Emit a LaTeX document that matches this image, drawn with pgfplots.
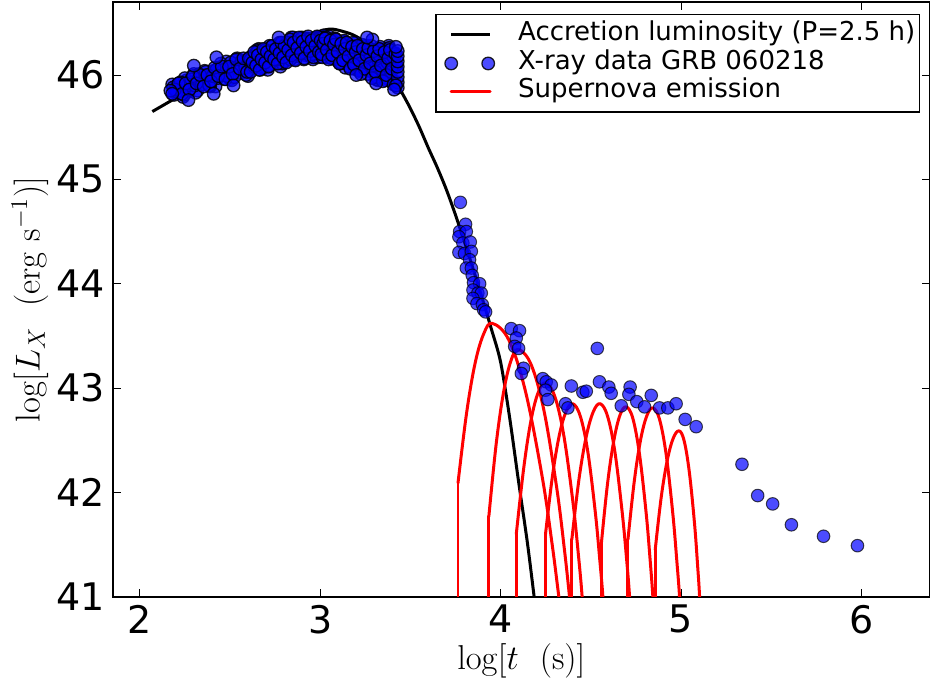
\documentclass[border=0pt]{standalone}
\usepackage{pgfplots}
\pgfplotsset{compat=1.18}
\usepackage[no-math]{fontspec}
\setmainfont{DejaVu Sans}
\definecolor{mblue}{rgb}{0,0,1}
\pgfplotsset{
  lineleg/.style={legend image code/.code={\path[draw=none] (-7.5pt,0pt) -- (31.5pt,0pt); \draw[##1] (0pt,0pt) -- (19.5pt,0pt);}},
  markleg/.style={legend image code/.code={\path[draw=none] (-7.5pt,0pt) -- (31.5pt,0pt); \draw[##1] plot coordinates {(0pt,0pt) (18.5pt,0pt)};}},
  sn/.style={color=red, line width=1.5pt, line cap=round, line join=round},
  snc/.style={sn, smooth, tension=0.6},
}
\begin{document}
\begin{tikzpicture}
\begin{axis}[
  name=ax,
  scale only axis,
  width=408.8pt, height=297.5pt,
  xmin=1.85, xmax=6.38, ymin=41, ymax=46.7,
  xtick={2,3,4,5,6}, ytick={41,42,43,44,45,46},
  tick align=inside,
  major tick length=4pt,
  every tick/.style={black, line width=0.5pt},
  axis line style={line width=0.9pt},
  /pgf/number format/assume math mode=true,
  ticklabel style={font=\fontsize{19}{19}\selectfont},
  xticklabel style={inner ysep=4pt},
  yticklabel style={inner xsep=3.85pt},
  xlabel={$\log[t\ \ (\mathrm{s})]$},
  ylabel={$\log[L_X\ \ (\mathrm{erg\ s^{-1}})]$},
  label style={font=\fontsize{16.5}{18}\selectfont},
  xlabel style={at={(axis description cs:0.5,-0.1076)}, anchor=center},
  ylabel style={at={(axis description cs:-0.1011,0.5)}, anchor=center},
  legend style={at={(0.9878,0.9798)}, anchor=north east, draw=black, line width=0.75pt,
    inner xsep=0pt, inner ysep=3pt, font=\fontsize{13}{15}\selectfont,
    nodes={inner sep=2pt, text height=8.05pt, text depth=2.2pt}},
  legend cell align=left,
]
% accretion luminosity
\addplot[color=black, line width=1.5pt, smooth, tension=0.5, lineleg]
  coordinates {
(2.07,45.65) (2.2,45.78) (2.3,45.88) (2.4,45.98) (2.5,46.07) (2.6,46.15) (2.7,46.23)
(2.8,46.30) (2.9,46.37) (3.0,46.42) (3.05,46.44) (3.1,46.43) (3.2,46.37) (3.3,46.22)
(3.35,46.11) (3.4,45.98) (3.45,45.84) (3.5,45.68) (3.55,45.50) (3.6,45.30) (3.65,45.11)
(3.7,44.90) (3.75,44.66) (3.8,44.40) (3.85,44.13) (3.9,43.85) (3.95,43.56) (4.0,43.25)
(4.05,42.72) (4.1,42.10) (4.15,41.50) (4.2,40.80)
};
\addlegendentry{Accretion luminosity (P=2.5 h)}
% X-ray data: dense early band
\addplot[only marks, mark=*, mark size=3.15pt,
  mark options={fill=mblue, draw=black, fill opacity=0.7, draw opacity=0.85, line width=0.65pt}, markleg]
  table {
x y
2.18 45.91
2.20 45.83
2.22 45.89
2.24 45.79
2.26 45.95
2.28 45.89
2.30 46.01
2.32 45.85
2.34 45.95
2.36 46.04
2.38 45.91
2.40 46.01
2.42 45.89
2.44 46.07
2.46 46.00
2.48 46.13
2.50 45.96
2.52 46.06
2.54 46.16
2.56 46.02
2.58 46.12
2.60 45.99
2.62 46.18
2.64 46.11
2.66 46.25
2.68 46.06
2.70 46.17
2.72 46.28
2.74 46.11
2.76 46.23
2.78 46.08
2.80 46.29
2.82 46.21
2.84 46.36
2.86 46.15
2.88 46.26
2.90 46.36
2.92 46.19
2.94 46.30
2.96 46.15
2.98 46.34
3.00 46.25
3.02 46.38
3.04 46.17
3.06 46.26
3.08 46.35
3.10 46.16
3.12 46.25
3.14 46.07
3.16 46.28
3.18 46.16
3.20 46.31
3.22 46.04
3.24 46.15
3.26 46.28
3.28 46.04
3.30 46.17
3.32 45.95
3.34 46.23
3.36 46.08
3.38 46.28
3.40 45.95
3.42 46.09
2.19 45.81
2.21 45.91
2.23 45.85
2.25 45.97
2.27 45.84
2.29 45.93
2.31 45.83
2.33 46.01
2.35 45.95
2.37 46.00
2.39 45.89
2.41 46.04
2.43 45.97
2.45 46.11
2.47 45.96
2.49 46.06
2.51 45.95
2.53 46.14
2.55 46.07
2.57 46.13
2.59 46.00
2.61 46.16
2.63 46.08
2.65 46.24
2.67 46.08
2.69 46.18
2.71 46.05
2.73 46.27
2.75 46.19
2.77 46.25
2.79 46.11
2.81 46.29
2.83 46.19
2.85 46.36
2.87 46.18
2.89 46.28
2.91 46.15
2.93 46.35
2.95 46.27
2.97 46.32
2.99 46.17
3.01 46.32
3.03 46.23
3.05 46.37
3.07 46.18
3.09 46.26
3.11 46.11
3.13 46.31
3.15 46.20
3.17 46.25
3.19 46.06
3.21 46.24
3.23 46.11
3.25 46.28
3.27 46.04
3.29 46.16
3.31 45.96
3.33 46.25
3.35 46.11
3.37 46.18
3.39 45.94
3.41 46.18
2.185 45.88
2.205 45.84
2.225 45.93
2.245 45.81
2.265 45.90
2.285 45.96
2.305 45.90
2.325 45.96
2.345 45.91
2.365 46.03
2.385 45.90
2.405 45.99
2.425 46.05
2.445 45.99
2.465 46.05
2.485 45.99
2.505 46.12
2.525 45.98
2.545 46.08
2.565 46.14
2.585 46.07
2.605 46.14
2.625 46.07
2.645 46.21
2.665 46.05
2.685 46.16
2.705 46.23
2.725 46.15
2.745 46.23
2.765 46.15
2.785 46.30
2.805 46.13
2.825 46.24
2.845 46.31
2.865 46.22
2.885 46.29
2.905 46.21
2.925 46.35
2.945 46.18
2.965 46.28
2.985 46.33
3.005 46.24
3.025 46.30
3.045 46.21
3.065 46.34
3.085 46.15
3.105 46.24
3.125 46.29
3.145 46.18
3.165 46.23
3.185 46.12
3.205 46.27
3.225 46.05
3.245 46.16
3.265 46.23
3.285 46.10
3.305 46.18
3.325 46.04
3.345 46.24
3.365 45.97
3.385 46.11
3.405 46.19
2.195 45.86
2.215 45.92
2.235 45.82
2.255 45.92
2.275 45.86
2.295 45.99
2.315 45.92
2.335 46.00
2.355 45.89
2.375 46.00
2.395 45.94
2.415 46.07
2.435 45.99
2.455 46.08
2.475 45.96
2.495 46.08
2.515 46.01
2.535 46.15
2.555 46.06
2.575 46.16
2.595 46.03
2.615 46.15
2.635 46.08
2.655 46.23
2.675 46.13
2.695 46.24
2.715 46.09
2.735 46.23
2.755 46.15
2.775 46.31
2.795 46.20
2.815 46.31
2.835 46.15
2.855 46.29
2.875 46.20
2.895 46.35
2.915 46.25
2.935 46.34
2.955 46.20
2.975 46.31
2.995 46.22
3.015 46.36
3.035 46.25
3.055 46.34
3.075 46.17
3.095 46.28
3.115 46.17
3.135 46.32
3.155 46.18
3.175 46.28
3.195 46.08
3.215 46.21
3.235 46.09
3.255 46.27
3.275 46.12
3.295 46.24
3.315 46.01
3.335 46.18
3.355 46.04
3.375 46.25
3.395 46.07
3.415 46.21
2.605 46.16
2.615 46.03
2.625 46.12
2.635 46.22
2.645 46.09
2.655 46.19
2.665 46.05
2.675 46.15
2.685 46.25
2.695 46.12
2.705 46.22
2.715 46.08
2.725 46.18
2.735 46.28
2.745 46.15
2.755 46.25
2.765 46.11
2.775 46.21
2.785 46.31
2.795 46.17
2.803 46.28
2.813 46.12
2.823 46.24
2.833 46.34
2.843 46.19
2.853 46.31
2.863 46.14
2.873 46.26
2.883 46.36
2.893 46.21
2.903 46.32
2.913 46.16
2.923 46.27
2.933 46.37
2.943 46.23
2.953 46.33
2.963 46.17
2.973 46.28
2.983 46.37
2.993 46.22
3.003 46.33
3.013 46.17
3.023 46.28
3.033 46.36
3.043 46.22
3.053 46.32
3.063 46.16
3.073 46.26
3.083 46.35
3.093 46.19
3.103 46.30
3.113 46.12
3.123 46.23
3.133 46.33
3.143 46.16
3.153 46.27
3.163 46.08
3.173 46.20
3.183 46.31
3.193 46.12
3.203 46.25
3.213 46.04
3.223 46.17
3.233 46.29
3.243 46.09
3.253 46.22
3.263 46.01
3.273 46.15
3.283 46.28
3.293 46.07
3.303 46.21
3.313 45.98
3.323 46.14
3.333 46.27
3.343 46.05
3.353 46.21
3.363 45.95
3.373 46.12
3.383 46.26
3.393 46.03
3.403 46.18
3.413 45.93
3.423 46.10
3.007 46.20
3.017 46.30
3.027 46.35
3.037 46.24
3.047 46.15
3.057 46.33
3.067 46.19
3.077 46.29
3.087 46.34
3.097 46.22
3.107 46.11
3.117 46.30
3.127 46.14
3.137 46.25
3.147 46.31
3.157 46.18
3.167 46.06
3.177 46.27
3.187 46.10
3.197 46.22
3.207 46.28
3.217 46.14
3.227 46.01
3.237 46.25
3.247 46.06
3.257 46.19
3.267 46.26
3.277 46.11
3.287 45.97
3.297 46.23
3.307 46.03
3.317 46.18
3.327 46.25
3.337 46.09
3.347 45.94
3.357 46.22
3.367 46.00
3.377 46.16
3.387 46.24
3.397 46.06
3.407 45.91
3.417 46.20
3.43 45.88
3.43 45.93
3.43 45.98
3.43 46.03
3.43 46.08
3.43 46.13
3.43 46.18
3.43 46.23
3.42 45.90
3.42 46.27
3.41 45.86
2.425 46.17
2.27 45.76
2.41 45.82
2.77 46.36
3.29 46.34
3.31 45.92
2.30 46.09
2.52 45.90
3.20 46.00
3.26 46.36
2.17 45.85
2.18 45.82
};
\addlegendentry{X-ray data GRB 060218}
% X-ray data: later points
\addplot[only marks, mark=*, mark size=3.15pt, forget plot,
  mark options={fill=mblue, draw=black, opacity=0.7, line width=0.5pt}]
  table {
x y
3.777 44.78
3.806 44.57
3.773 44.50
3.810 44.50
3.769 44.45
3.791 44.39
3.832 44.40
3.769 44.30
3.800 44.29
3.838 44.31
3.828 44.23
3.810 44.15
3.838 44.15
3.843 44.08
3.850 44.01
3.884 44.00
3.847 43.94
3.874 43.91
3.893 43.91
3.847 43.86
3.869 43.81
3.899 43.80
3.906 43.75
3.917 43.73
4.059 43.57
4.105 43.55
4.087 43.48
4.078 43.40
4.100 43.38
4.127 43.19
4.115 43.14
4.234 43.09
4.253 43.06
4.281 43.03
4.249 42.98
4.262 42.89
4.392 43.02
4.456 42.96
4.475 42.97
4.536 43.38
4.548 43.06
4.600 43.01
4.613 42.95
4.718 43.01
4.711 42.94
4.669 42.83
4.755 42.87
4.798 42.82
4.835 42.93
4.881 42.81
4.927 42.81
4.973 42.85
4.360 42.85
4.373 42.81
5.023 42.70
5.084 42.63
5.338 42.27
5.425 41.97
5.508 41.89
5.612 41.69
5.790 41.58
5.978 41.49
};
% supernova emission
\addplot[snc, lineleg] coordinates {
(3.764,42.09) (3.8115,42.76) (3.859,43.24) (3.9065,43.52) (3.954,43.62)
(4.046,43.46) (4.1385,42.965) (4.231,42.146) (4.286,41.50) (4.323,41.0) (4.36,40.5)
};
\addlegendentry{Supernova emission}
\addplot[sn, forget plot] coordinates {(3.764,40.5) (3.764,42.09)};
\addplot[snc, forget plot] coordinates {
(3.935,41.77) (3.976,42.47) (4.0175,42.97) (4.059,43.27) (4.10,43.37)
(4.1705,43.22) (4.241,42.78) (4.3115,42.04) (4.354,41.45) (4.382,41.0) (4.41,40.5)
};
\addplot[sn, forget plot] coordinates {(3.935,40.5) (3.935,41.77)};
\addplot[snc, forget plot] coordinates {
(4.087,41.60) (4.128,42.23) (4.1685,42.69) (4.209,42.96) (4.25,43.05)
(4.3005,42.92) (4.351,42.54) (4.4015,41.90) (4.432,41.39) (4.452,41.0) (4.47,40.5)
};
\addplot[sn, forget plot] coordinates {(4.087,40.5) (4.087,41.60)};
\addplot[snc, forget plot] coordinates {
(4.249,41.60) (4.287,42.15) (4.3245,42.54) (4.362,42.77) (4.40,42.85)
(4.442,42.73) (4.4835,42.39) (4.525,41.81) (4.550,41.35) (4.567,41.0) (4.585,40.5)
};
\addplot[sn, forget plot] coordinates {(4.249,40.5) (4.249,41.60)};
\addplot[snc, forget plot] coordinates {
(4.395,41.55) (4.434,42.12) (4.4735,42.525) (4.513,42.77) (4.552,42.85)
(4.593,42.73) (4.6335,42.39) (4.674,41.81) (4.699,41.35) (4.715,41.0) (4.732,40.5)
};
\addplot[sn, forget plot] coordinates {(4.395,40.5) (4.395,41.55)};
\addplot[snc, forget plot] coordinates {
(4.558,41.50) (4.5925,42.08) (4.627,42.49) (4.6615,42.74) (4.696,42.82)
(4.733,42.71) (4.77,42.365) (4.807,41.80) (4.829,41.35) (4.844,41.0) (4.86,40.5)
};
\addplot[sn, forget plot] coordinates {(4.558,40.5) (4.558,41.50)};
\addplot[snc, forget plot] coordinates {
(4.706,41.55) (4.7405,42.10) (4.775,42.495) (4.8095,42.73) (4.844,42.81)
(4.881,42.70) (4.918,42.36) (4.955,41.79) (4.977,41.34) (4.992,41.0) (5.008,40.5)
};
\addplot[sn, forget plot] coordinates {(4.706,40.5) (4.706,41.55)};
\addplot[snc, forget plot] coordinates {
(4.857,41.45) (4.89,41.95) (4.9235,42.305) (4.957,42.52) (4.99,42.59)
(5.018,42.49) (5.0465,42.19) (5.075,41.70) (5.092,41.30) (5.103,41.0) (5.115,40.5)
};
\addplot[sn, forget plot] coordinates {(4.857,40.5) (4.857,41.45)};
\end{axis}
\pgfresetboundingbox
\path[use as bounding box] ([shift={(-56.35pt,-45.1pt)}]ax.south west) rectangle ([shift={(0pt,1pt)}]ax.north east);
\end{tikzpicture}
\end{document}
